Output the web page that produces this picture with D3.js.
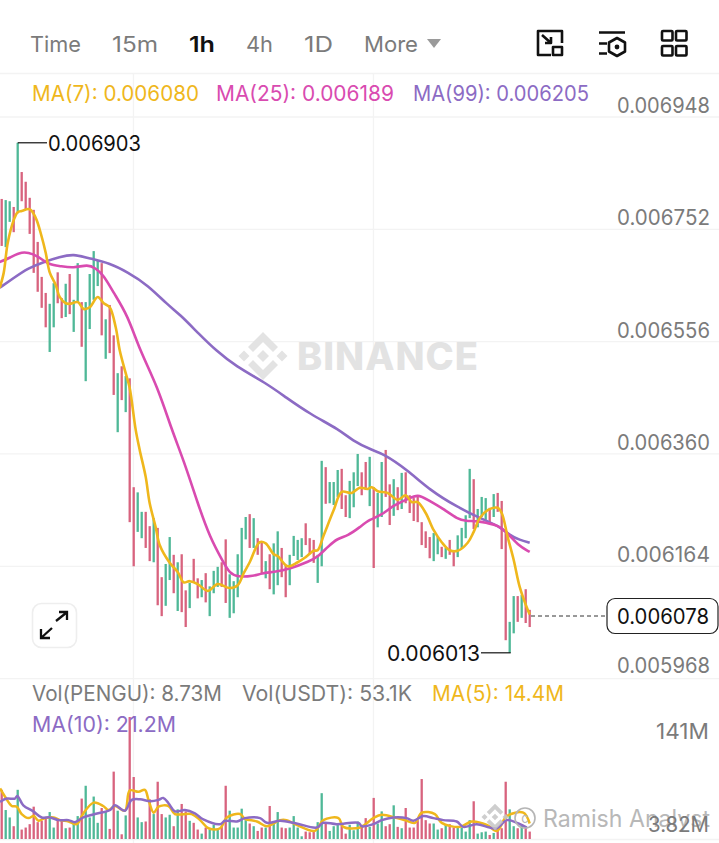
<!DOCTYPE html>
<html><head><meta charset="utf-8">
<script src="https://cdn.jsdelivr.net/npm/d3@7"></script>
<style>html,body{margin:0;padding:0;background:#fff}svg{display:block}text{font-family:Inter,"Noto Sans",sans-serif}</style>
</head><body><svg id="c" width="719" height="843"></svg>
<script>
// Prices are in millionths (6903 = 0.006903)
const candleHigh=[6805,6803,6801,6791,6903,6852,6835,6807,6786,6730,6669,6641,6622,6658,6677,6632,6657,6674,6629,6693,6625,6625,6674,6714,6698,6693,6595,6620,6567,6501,6513,6496,6492,6302,6293,6259,6259,6234,6248,6231,6145,6168,6215,6184,6171,6185,6122,6135,6177,6143,6140,6152,6129,6156,6163,6171,6211,6150,6138,6185,6231,6250,6255,6248,6213,6206,6173,6185,6204,6225,6196,6166,6184,6217,6210,6213,6239,6213,6210,6184,6348,6337,6311,6311,6332,6334,6288,6313,6328,6360,6328,6346,6355,6302,6292,6346,6367,6307,6316,6302,6327,6328,6288,6283,6285,6241,6225,6215,6222,6215,6198,6196,6210,6192,6218,6231,6253,6334,6316,6264,6285,6283,6266,6290,6292,6278,6222,6067,6112,6112,6114,6124,6088];
const candleLow=[6723,6721,6765,6747,6780,6801,6787,6744,6676,6643,6615,6581,6538,6581,6623,6597,6599,6604,6573,6625,6547,6487,6578,6629,6653,6567,6526,6536,6463,6398,6454,6433,6241,6164,6224,6213,6196,6173,6171,6096,6077,6095,6140,6117,6086,6084,6058,6091,6136,6108,6110,6101,6077,6117,6128,6128,6100,6074,6082,6110,6145,6211,6196,6196,6184,6152,6143,6124,6115,6131,6145,6110,6131,6182,6175,6180,6201,6185,6170,6135,6164,6273,6274,6271,6285,6264,6250,6248,6267,6304,6288,6297,6269,6161,6232,6250,6285,6236,6252,6262,6264,6274,6257,6243,6241,6201,6196,6178,6173,6185,6180,6177,6184,6164,6180,6196,6213,6248,6229,6232,6250,6245,6241,6250,6259,6194,6035,6013,6047,6067,6074,6065,6058];
const candleUp=[0,1,1,0,1,0,0,0,0,0,0,0,1,1,0,0,1,0,1,1,0,1,1,1,1,0,1,0,0,1,0,1,0,0,1,1,0,0,1,0,0,1,1,0,1,0,0,1,0,0,1,0,1,1,1,0,0,1,1,1,1,1,0,1,0,0,1,0,1,1,0,0,1,1,1,1,0,0,0,1,1,0,1,1,1,0,0,1,1,1,0,0,1,0,1,1,0,0,1,0,1,0,0,0,0,0,0,0,1,1,0,1,0,0,1,1,1,1,0,1,1,1,0,1,0,0,0,1,1,0,1,0,0];
const volume=[73,43,32,19,73,14,17,22,48,25,27,31,40,17,28,28,16,17,26,34,60,79,32,63,24,46,41,15,100,42,7,35,181,92,32,25,26,59,37,85,37,32,36,19,44,52,41,27,24,14,8,17,14,21,16,18,79,42,17,17,45,28,23,19,12,17,17,49,23,40,17,16,17,34,17,4,11,10,11,25,68,23,12,19,21,21,8,21,13,26,21,31,18,61,23,41,19,22,50,18,16,46,17,17,28,89,28,23,23,14,16,21,22,17,17,17,11,28,56,8,10,11,6,9,12,16,85,44,19,16,21,17,11];
const ma7=[[-0.5,6650],[0.5,6676],[1.5,6728],[3,6768],[4,6782],[5,6784],[7,6787],[8.5,6772],[10,6739],[11,6711],[12,6677],[13.5,6655],[14.5,6634],[16,6623],[17,6622],[19,6625],[20.5,6613],[22,6616],[24,6634],[25.5,6623],[27,6616],[28.5,6581],[29.5,6541],[31,6501],[32,6475],[33.5,6402],[34.5,6367],[36,6320],[37,6274],[38.5,6232],[39.5,6201],[42,6170],[44,6154],[45.5,6136],[47,6138],[49,6133],[51.5,6121],[54,6133],[57,6126],[59,6131],[60.5,6152],[62,6171],[64.5,6206],[66,6204],[68,6185],[69,6182],[71.5,6164],[74,6171],[76,6180],[78,6191],[79,6192],[80.5,6218],[83,6262],[85,6294],[87.5,6292],[89.5,6301],[91.5,6299],[92.5,6302],[94,6295],[96.5,6292],[99,6280],[101,6288],[102.5,6276],[104,6276],[106,6257],[108,6227],[110,6206],[112,6192],[114,6191],[116.5,6205],[118,6224],[119.5,6248],[121.5,6262],[124,6266],[125,6257],[126.5,6215],[128,6175],[129.5,6128],[131.5,6088],[132,6080]];
const ma25=[[-0.5,6695],[2,6702],[5,6714],[8,6709],[10,6700],[12,6690],[14.5,6688],[18,6684],[21.5,6691],[23.5,6684],[25.5,6672],[28,6641],[31.5,6602],[34.5,6541],[39,6477],[42.5,6402],[45.5,6349],[49,6274],[52,6215],[55.5,6170],[57,6152],[59,6145],[63,6147],[65,6152],[68,6154],[72,6159],[77,6173],[79,6180],[81.5,6198],[84,6213],[86.5,6217],[89.5,6232],[92,6246],[95,6253],[98,6271],[101.5,6281],[104,6290],[106.5,6280],[110.5,6264],[114,6246],[116,6243],[119,6243],[121.5,6239],[124,6236],[126.5,6222],[129,6201],[132,6189]];
const ma99=[[-0.5,6650],[3,6667],[6.5,6684],[10.5,6695],[14.5,6704],[18,6709],[21.5,6702],[27,6693],[31.5,6677],[36.5,6655],[41.5,6620],[44.5,6604],[49.5,6568],[53.5,6541],[58.5,6513],[66,6484],[71,6459],[77,6430],[84.5,6402],[87.5,6384],[93,6365],[95,6362],[101.5,6332],[107,6297],[114,6267],[119.5,6248],[124.5,6234],[127,6218],[129.5,6210],[132,6205]];
const volMa5=[[-0.4,75],[0.8,63],[2.5,49],[3.75,48],[5,37],[6.7,31],[8,34],[9.2,27],[10.8,31],[13,32],[14.6,28],[16.7,26],[18.8,22],[20.4,38],[23,54],[25.4,49],[26.7,43],[28.3,49],[30.8,42],[32,72],[34.2,70],[35.8,73],[36.7,58],[38,39],[39.2,48],[41.7,49],[43.3,37],[47.5,37],[49.6,28],[51.7,16],[54.6,16],[56.3,32],[59.6,37],[60.8,30],[63.8,26],[66.3,19],[69.6,28],[71.2,28],[73.7,21],[78.3,12],[80.4,28],[84.2,31],[85.4,18],[89.6,17],[92.9,31],[95,36],[98.8,31],[100.8,28],[103.3,24],[105,39],[108.3,37],[110,24],[114.6,18],[117.5,26],[121.3,21],[123.8,12],[126.3,34],[130.4,39],[132,23]];
const volMa10=[[-0.4,55],[1.25,60],[3.3,60],[3.9,64],[5.4,50],[7.9,41],[10,32],[12.1,32],[14.2,28],[16.7,28],[18.3,25],[20.4,32],[23.3,37],[27.1,43],[28.3,50],[30.8,42],[32.5,58],[34.6,59],[37.1,56],[39.2,58],[40.4,61],[41.7,53],[43.3,41],[45.8,43],[48.3,38],[50.4,29],[54.6,22],[55.8,27],[58.8,26],[60.8,31],[64.6,31],[66.3,24],[69.6,27],[73.7,23],[78.75,17],[80.4,24],[83.75,22],[89.2,24],[90,19],[92.9,22],[95,28],[97.9,32],[101.25,31],[102.9,27],[105.4,34],[107.9,31],[110.4,28],[113.75,26],[115.4,18],[118.75,22],[122,17],[123.8,16],[126.3,28],[129.2,23],[131.3,17]];
const priceTicks=["0.006948","0.006752","0.006556","0.006360","0.006164","0.005968"];
const intervals=["Time","15m","1h","4h","1D","More"];
const maLegend=["MA(7): 0.006080","MA(25): 0.006189","MA(99): 0.006205"];
const volLegend=["Vol(PENGU): 8.73M","Vol(USDT): 53.1K","MA(5): 14.4M","MA(10): 21.2M"];
const volTicks=["141M","3.82M"];
const highLabel=6903, lowLabel=6013, lastPrice=6078;

const RED="#d8637e",GREEN="#4fb897",YEL="#efb71c",PINK="#d94bb0",PUR="#8c6bc4",GRID="#f3f3f3",GREY="#7b7b7b";
const svg=d3.select("#c");
const x=d3.scaleLinear().domain([0,132]).range([1.7,529.7]);
const y=d3.scaleLinear().domain([6948,5968]).range([117,678.6]);
const v=d3.scaleLinear().domain([0,141]).range([839,744]);
const FS=21;

// grid
const g=svg.append("g");
priceTicks.forEach(t=>{const p=+t*1e6;g.append("line").attr("x1",0).attr("x2",719).attr("y1",y(p)).attr("y2",y(p)).attr("stroke",GRID).attr("stroke-width",1.3)});
g.append("line").attr("x1",0).attr("x2",719).attr("y1",73.5).attr("y2",73.5).attr("stroke",GRID).attr("stroke-width",1.3);
[32,92].forEach(i=>g.append("line").attr("x1",x(i)+3.8).attr("x2",x(i)+3.8).attr("y1",73).attr("y2",843).attr("stroke",GRID).attr("stroke-width",1.3));
g.append("line").attr("x1",0).attr("x2",719).attr("y1",839.5).attr("y2",839.5).attr("stroke",GRID).attr("stroke-width",1.3);

// Binance watermark
const wm=svg.append("g").attr("fill","#e3e3e3");
const dia=(cx,cy,r)=>`M${cx-r},${cy}L${cx},${cy-r}L${cx+r},${cy}L${cx},${cy+r}Z`;
function logo(parent,cx,cy,s){
  parent.append("path").attr("d",dia(cx-19*s,cy,5.5*s));
  parent.append("path").attr("d",dia(cx+19*s,cy,5.5*s));
  parent.append("path").attr("d",dia(cx,cy,6*s));
  parent.append("path").attr("d",`M${cx},${cy-24*s}L${cx+15*s},${cy-9*s}L${cx+10*s},${cy-4*s}L${cx},${cy-14*s}L${cx-10*s},${cy-4*s}L${cx-15*s},${cy-9*s}Z`);
  parent.append("path").attr("d",`M${cx},${cy+24*s}L${cx+15*s},${cy+9*s}L${cx+10*s},${cy+4*s}L${cx},${cy+14*s}L${cx-10*s},${cy+4*s}L${cx-15*s},${cy+9*s}Z`);
}
logo(wm,263,356,1);
wm.append("text").attr("x",297).attr("y",370).attr("font-size",38).attr("font-weight",800).attr("textLength",181).attr("lengthAdjust","spacing").text("BINANCE");

// candles
svg.append("g").selectAll("rect").data(candleHigh).join("rect")
 .attr("x",(d,i)=>x(i)-1.15).attr("width",2.3)
 .attr("y",d=>y(d)).attr("height",(d,i)=>y(candleLow[i])-y(d))
 .attr("fill",(d,i)=>candleUp[i]?GREEN:RED);

// volume
svg.append("g").selectAll("rect").data(volume).join("rect")
 .attr("x",(d,i)=>x(i)-1.15).attr("width",2.3)
 .attr("y",d=>v(d)).attr("height",d=>v(0)-v(d))
 .attr("fill",(d,i)=>candleUp[i]?GREEN:RED);

// lines
const priceLine=d3.line().x(d=>x(d[0])).y(d=>y(d[1])).curve(d3.curveBasis);
const yellowLine=d3.line().x(d=>x(d[0])).y(d=>y(d[1])).curve(d3.curveCatmullRom.alpha(0.5));
const volLine=d3.line().x(d=>x(d[0])).y(d=>v(d[1])).curve(d3.curveCatmullRom.alpha(0.5));
svg.append("path").attr("d",priceLine(ma99)).attr("fill","none").attr("stroke",PUR).attr("stroke-width",2.6);
svg.append("path").attr("d",priceLine(ma25)).attr("fill","none").attr("stroke",PINK).attr("stroke-width",2.6);
svg.append("path").attr("d",yellowLine(ma7)).attr("fill","none").attr("stroke",YEL).attr("stroke-width",2.6);
[[volMa5,YEL],[volMa10,PUR]].forEach(([d,c])=>svg.append("path").attr("d",volLine(d)).attr("fill","none").attr("stroke",c).attr("stroke-width",2.5));

// helpers
function T(s,px,py,c,o={}){return svg.append("text").attr("x",px).attr("y",py).attr("fill",c).attr("font-size",o.fs||FS).attr("font-weight",o.w||400).attr("text-anchor",o.a||"start").attr("textLength",o.len||null).attr("lengthAdjust","spacingAndGlyphs").text(s)}

// header
const hx=[30,112,189,246,304,364],hl=[51,46,26,27,29,54];
intervals.forEach((s,i)=>T(s,hx[i],52,i==2?"#111":GREY,{fs:22,w:i==2?600:400,len:hl[i]}));
svg.append("path").attr("d","M427,39H441L434,48Z").attr("fill","#9a9a9a");
// header icons
const ic=svg.append("g").attr("fill","none").attr("stroke","#111").attr("stroke-width",2.6).attr("stroke-linejoin","round");
ic.append("path").attr("d","M551,55H538V31H562V43");
ic.append("rect").attr("x",553).attr("y",47).attr("width",9).attr("height",8);
ic.append("path").attr("d","M542,35L551,43M551,37V43H545");
ic.append("path").attr("d","M599,32.5H625M599,43.5H607M599,53.5H607");
ic.append("path").attr("d","M617,38L625,42.5V51.5L617,56L609,51.5V42.5Z");
svg.append("circle").attr("cx",617).attr("cy",47).attr("r",2.4).attr("fill","#111");
[[662,31],[676,31],[662,46],[676,46]].forEach(p=>ic.append("rect").attr("x",p[0]).attr("y",p[1]).attr("width",10.5).attr("height",9.5).attr("rx",1));

// legends
T(maLegend[0],32,101,YEL,{len:167});
T(maLegend[1],216,101,PINK,{len:178});
T(maLegend[2],413,101,PUR,{len:176});
T(volLegend[0],32,701,GREY,{len:190});
T(volLegend[1],242,701,GREY,{len:170});
T(volLegend[2],432,701,YEL,{len:132});
T(volLegend[3],32,732,PUR,{len:144});

// axis labels
const py=[113,225,338,450,562,673];
priceTicks.forEach((t,i)=>T(t,710,py[i],GREY,{a:"end",len:93}));
T(volTicks[0],709,739,GREY,{a:"end",len:53});

// high/low callouts
const fmt=p=>(p/1e6).toFixed(6);
svg.append("line").attr("x1",x(4)).attr("x2",47).attr("y1",y(highLabel)).attr("y2",y(highLabel)).attr("stroke","#111").attr("stroke-width",1.2);
T(fmt(highLabel),48,y(highLabel)+8,"#111",{len:93});
svg.append("line").attr("x1",x(127)+1).attr("x2",481).attr("y1",y(lowLabel)).attr("y2",y(lowLabel)).attr("stroke","#111").attr("stroke-width",1.2);
T(fmt(lowLabel),387,y(lowLabel)+8,"#111",{len:93});

// last price tag
svg.append("line").attr("x1",531).attr("x2",607).attr("y1",616).attr("y2",616).attr("stroke","#333").attr("stroke-width",1).attr("stroke-dasharray","4 3");
svg.append("rect").attr("x",607).attr("y",598.5).attr("width",111).attr("height",35).attr("rx",8).attr("fill","#fff").attr("stroke","#222").attr("stroke-width",1.2);
T(fmt(lastPrice),617,624,"#111",{len:92});

// expand button
svg.append("rect").attr("x",32.5).attr("y",603.5).attr("width",44).attr("height",44).attr("rx",9).attr("fill","#fff").attr("stroke","#eeeeee").attr("stroke-width",1.6);
svg.append("path").attr("d","M56,621L66,613M41,638L52,628M59,612H67V620M41,629V638H50").attr("fill","none").attr("stroke","#111").attr("stroke-width",2.3);

// footer watermark
const fw=svg.append("g").attr("fill","#c6c6c6").attr("opacity",0.85);
logo(fw,495,817,0.55);
svg.append("circle").attr("cx",525).attr("cy",818).attr("r",10).attr("fill","none").attr("stroke","#b5b5b5").attr("stroke-width",1.6);
svg.append("text").attr("x",525).attr("y",823).attr("text-anchor","middle").attr("font-size",13).attr("fill","#b5b5b5").text("c");
T("Ramish Analyst",543,827,"#b8b8b8",{fs:24,len:167});
T(volTicks[1],709,832,GREY,{a:"end",len:61});
</script></body></html>
